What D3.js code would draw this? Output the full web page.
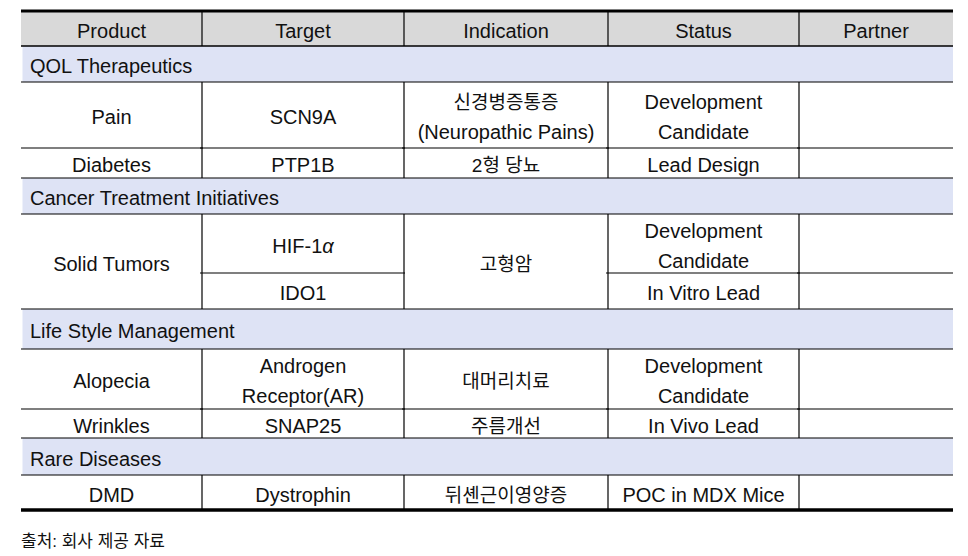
<!DOCTYPE html>
<html>
<head>
<meta charset="utf-8">
<script src="https://cdn.jsdelivr.net/npm/d3@7"></script>
<style>
  body { margin: 0; background: #fff; }
  text { font-family: "Liberation Sans", "Noto Sans CJK KR", sans-serif; fill: #111; }
</style>
</head>
<body>
<div id="chart"></div>
<script>
// 表格数据
const columns = ["Product", "Target", "Indication", "Status", "Partner"];
const groups = ["QOL Therapeutics", "Cancer Treatment Initiatives", "Life Style Management", "Rare Diseases"];
const rowGroup = [0, 0, 1, 1, 2, 2, 3];
const products = ["Pain", "Diabetes", "Solid Tumors", "Solid Tumors", "Alopecia", "Wrinkles", "DMD"];
const targets = ["SCN9A", "PTP1B", "HIF-1α", "IDO1", "Androgen\nReceptor(AR)", "SNAP25", "Dystrophin"];
const indications = ["신경병증통증\n(Neuropathic Pains)", "2형 당뇨", "고형암", "고형암", "대머리치료", "주름개선", "뒤셴근이영양증"];
const statuses = ["Development\nCandidate", "Lead Design", "Development\nCandidate", "In Vitro Lead", "Development\nCandidate", "In Vivo Lead", "POC in MDX Mice"];
const partners = ["", "", "", "", "", "", ""];
const source = "출처: 회사 제공 자료";

// 布局
const width = 968, height = 556;
const colEdges = [21, 202, 404, 608, 799, 953];
const tableTop = 11;
const headerH = 35;
const groupH = [36, 36, 40, 37];
const rowH = [66, 30, 59, 36, 60, 29, 35];
const mergeCols = [0, 2]; // 合并相同内容的列
const headerBg = "#d9d9d9";
const groupBg = "#dee3f5";

const x = d3.scaleOrdinal(columns, colEdges.slice(0, 5));
const colW = d3.scaleOrdinal(columns, columns.map((c, i) => colEdges[i + 1] - colEdges[i]));
const left = colEdges[0], right = colEdges[colEdges.length - 1];

const svg = d3.select("#chart").append("svg")
    .attr("width", width).attr("height", height);

// 计算行位置
let y = tableTop + headerH;
const groupY = [], rowY = [];
groups.forEach((g, gi) => {
    groupY.push(y);
    y += groupH[gi];
    rowGroup.forEach((rg, ri) => {
        if (rg === gi) { rowY[ri] = y; y += rowH[ri]; }
    });
});
const tableBottom = y;

const cols = [products, targets, indications, statuses, partners];
const sameAsNext = (c, i) => mergeCols.includes(c) && i + 1 < products.length &&
    rowGroup[i] === rowGroup[i + 1] && cols[c][i] === cols[c][i + 1];

// 背景
svg.append("rect").attr("x", left).attr("y", tableTop).attr("width", right - left).attr("height", headerH)
    .attr("fill", headerBg);
svg.selectAll("rect.group").data(groups).join("rect").attr("class", "group")
    .attr("x", left + 1.5).attr("y", (d, i) => groupY[i]).attr("width", right - left - 1.5)
    .attr("height", (d, i) => groupH[i]).attr("fill", groupBg);

const lines = svg.append("g").attr("stroke", "#000").attr("stroke-width", 1.2);
const hline = (y0, x0, x1) => lines.append("line").attr("x1", x0).attr("x2", x1).attr("y1", y0).attr("y2", y0);
const vline = (x0, y0, y1) => lines.append("line").attr("x1", x0).attr("x2", x0).attr("y1", y0).attr("y2", y1);

// 横线
hline(tableTop + headerH, left, right);
groups.forEach((g, gi) => {
    hline(groupY[gi], left, right);
    hline(groupY[gi] + groupH[gi], left, right);
});
products.forEach((p, i) => {
    if (i + 1 < products.length && rowGroup[i] === rowGroup[i + 1]) {
        columns.forEach((c, ci) => {
            if (!sameAsNext(ci, i)) hline(rowY[i] + rowH[i], colEdges[ci] - (ci > 0 ? 2 : 0), colEdges[ci + 1] + (ci < 4 ? 1 : 0));
        });
    }
});
// 竖线
colEdges.slice(1, 5).forEach(cx => {
    vline(cx, tableTop, tableTop + headerH);
    products.forEach((p, i) => vline(cx, rowY[i], rowY[i] + rowH[i]));
});
// 粗线
svg.append("line").attr("x1", left).attr("x2", right).attr("y1", tableTop).attr("y2", tableTop)
    .attr("stroke", "#000").attr("stroke-width", 3.2);
svg.append("line").attr("x1", left).attr("x2", right).attr("y1", tableBottom).attr("y2", tableBottom)
    .attr("stroke", "#000").attr("stroke-width", 3.6);

// 文字
const hangul = /[\uac00-\ud7a3]/;
function cellText(str, cx, cy, anchor) {
    const parts = str.split("\n");
    parts.forEach((line, k) => {
        const t = svg.append("text")
            .attr("x", cx)
            .attr("y", cy + 9 + (k - (parts.length - 1) / 2) * 30)
            .attr("text-anchor", anchor)
            .attr("font-size", hangul.test(line) ? 19 : 20);
        line.split(/([\u03b1-\u03c9])/).filter(s => s.length).forEach(s => {
            t.append("tspan").text(s)
                .attr("font-style", /[\u03b1-\u03c9]/.test(s) ? "italic" : null);
        });
    });
}

columns.forEach(c => cellText(c, x(c) + colW(c) / 2, tableTop + headerH / 2, "middle"));
groups.forEach((g, gi) => cellText(g, left + 9, groupY[gi] + groupH[gi] / 2, "start"));

columns.forEach((c, ci) => {
    const vals = cols[ci];
    let i = 0;
    while (i < vals.length) {
        let j = i;
        while (sameAsNext(ci, j)) j++;
        const y0 = rowY[i], y1 = rowY[j] + rowH[j];
        if (vals[i]) cellText(vals[i], x(c) + colW(c) / 2, (y0 + y1) / 2, "middle");
        i = j + 1;
    }
});

svg.append("text").attr("x", left).attr("y", 547).attr("font-size", 17).text(source);
</script>
</body>
</html>
